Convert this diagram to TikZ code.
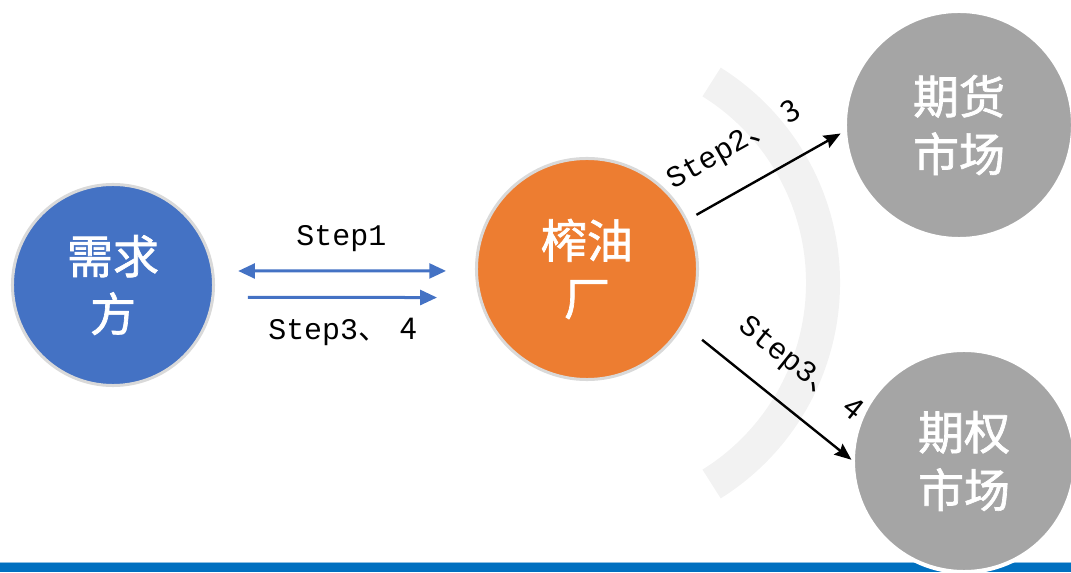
\documentclass[tikz,border=0pt]{standalone}
\usepackage{fontspec}
\newfontfamily\cjk{Noto Sans CJK SC}
\newfontfamily\cjkbig{Noto Sans CJK SC}[FakeBold=1.5]
\newfontfamily\stepfont{Liberation Mono}
\usetikzlibrary{arrows.meta}
\definecolor{buyerblue}{HTML}{4472C4}
\definecolor{millorange}{HTML}{ED7D31}
\definecolor{marketgray}{HTML}{A5A5A5}
\definecolor{ringgray}{HTML}{D9D9D9}
\definecolor{bandgray}{HTML}{F2F2F2}
\definecolor{barblue}{HTML}{0070C0}
\tikzset{
	party/.style={circle, inner sep=0pt, outer sep=0pt, align=center, text=white,
		font=\cjkbig\fontsize{32.7}{41}\selectfont},
	steplabel/.style={inner sep=0pt, text=black, font=\stepfont\fontsize{21.3}{25}\selectfont},
	bluearrow/.style={line width=0.75mm, buyerblue, >={Triangle[length=0.42cm, width=0.37cm]}},
	darkarrow/.style={line width=0.6mm, black, ->, >={Stealth[length=0.42cm, width=0.34cm, inset=0.06cm]}},
}
\newcommand{\dun}{\cjk{、}\kern0.3cm}

\begin{document}
\begin{tikzpicture}[x=0.025cm, y=0.025cm]
		%%%%% START %%%%%
		\useasboundingbox (0, 0) rectangle (1071, 572);
		
		% pale band behind the right-hand arrows
		\draw[bandgray, line width=0.85cm] (586, 289) ++(-58:237) arc[start angle=-58, end angle=58, radius=237];
		
		% strip along the bottom edge
		\fill[barblue!45] (0, 9) rectangle (1071, 10);
		\fill[barblue] (0, 0) rectangle (1071, 9);
		
		\node[party, fill=buyerblue, draw=ringgray, line width=0.75mm, minimum size=5.025cm] (xq) at (113, 287) {需求\\方};
		\node[party, fill=millorange, draw=ringgray, line width=0.75mm, minimum size=5.525cm] (zy) at (587, 303) {榨油\\厂};
		\node[party, fill=marketgray, draw=white, line width=1mm, minimum size=5.7cm] (qh) at (959, 447) {期货\\市场};
		\node[party, fill=marketgray, draw=white, line width=1mm, minimum size=5.55cm] (qq) at (964, 111) {期权\\市场};
		
		\draw[bluearrow, <->, shorten <=0.64cm, shorten >=0.76cm] (xq.8) -- (zy.181)
			node[steplabel, midway, xshift=-0.08cm, yshift=0.82cm] (s1) {Step1};
		\draw[bluearrow, ->, shorten <=0.88cm, shorten >=1.08cm] (xq.-7) -- (zy.195)
			node[steplabel, midway, xshift=-0.1cm, yshift=-0.87cm] (s34a) {Step3\dun 4};
		
		\draw[darkarrow, shorten <=0.29cm, shorten >=0.13cm] (zy.26) -- (qh.183)
			node[steplabel, pos=0.43, sloped, above=0.66cm] (s23) {Step2\dun 3};
		\draw[darkarrow, shorten <=0.62cm, shorten >=0.05cm] (zy.-30) -- (qq.180)
			node[steplabel, pos=0.55, sloped, above=0.59cm] (s34b) {Step3\dun 4};
		
		%%%%% END %%%%%
	\end{tikzpicture}
\end{document}
